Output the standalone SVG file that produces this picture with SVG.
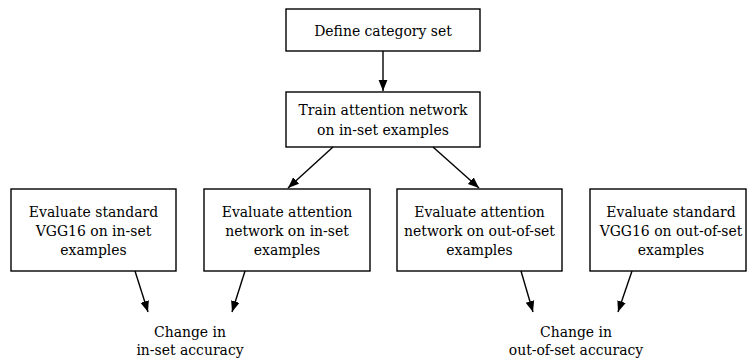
<svg xmlns="http://www.w3.org/2000/svg" width="747" height="360" viewBox="0 0 747 360">
<style>
.box{fill:#fff;stroke:#000;stroke-width:1.4}
text{font-family:"DejaVu Serif","Liberation Serif",serif;font-stretch:condensed;font-size:15.5px;fill:#000;text-anchor:middle}
.edge{stroke:#000;stroke-width:1.4;fill:none}
</style>
<defs>
<marker id="ah" viewBox="0 0 10 10" refX="10" refY="5" markerWidth="11" markerHeight="11" markerUnits="userSpaceOnUse" orient="auto">
<path d="M0,1 L10,5 L0,9 Z" fill="#000"/>
</marker>
</defs>
<rect width="747" height="360" fill="#fff"/>
<g id="n1"><rect class="box" x="286" y="9" width="194" height="42"/><text x="383" y="36">Define category set</text></g>
<g id="n2"><rect class="box" x="286" y="92" width="194" height="55"/><text x="383" y="115">Train attention network</text><text x="383" y="135">on in-set examples</text></g>
<g id="n3"><rect class="box" x="11" y="189" width="165" height="82"/><text x="93.5" y="217">Evaluate standard</text><text x="93.5" y="236">VGG16 on in-set</text><text x="93.5" y="255">examples</text></g>
<g id="n4"><rect class="box" x="204" y="189" width="166" height="82"/><text x="287" y="217">Evaluate attention</text><text x="287" y="236">network on in-set</text><text x="287" y="255">examples</text></g>
<g id="n5"><rect class="box" x="397" y="189" width="165" height="82"/><text x="479.5" y="217">Evaluate attention</text><text x="479.5" y="236">network on out-of-set</text><text x="479.5" y="255">examples</text></g>
<g id="n6"><rect class="box" x="590" y="189" width="156" height="82"/><text x="671" y="217">Evaluate standard</text><text x="671" y="236">VGG16 on out-of-set</text><text x="671" y="255">examples</text></g>
<g id="n7"><text x="190" y="337">Change in</text><text x="190" y="355">in-set accuracy</text></g>
<g id="n8"><text x="576" y="337">Change in</text><text x="576" y="355">out-of-set accuracy</text></g>
<g id="edges">
<line class="edge" x1="383" y1="51" x2="383" y2="91" marker-end="url(#ah)"/>
<line class="edge" x1="333" y1="147" x2="288" y2="188" marker-end="url(#ah)"/>
<line class="edge" x1="433" y1="147" x2="479" y2="188" marker-end="url(#ah)"/>
<line class="edge" x1="135" y1="271" x2="148" y2="312" marker-end="url(#ah)"/>
<line class="edge" x1="245" y1="271" x2="232" y2="312" marker-end="url(#ah)"/>
<line class="edge" x1="521" y1="271" x2="533" y2="312" marker-end="url(#ah)"/>
<line class="edge" x1="632" y1="271" x2="618" y2="312" marker-end="url(#ah)"/>
</g>
</svg>
